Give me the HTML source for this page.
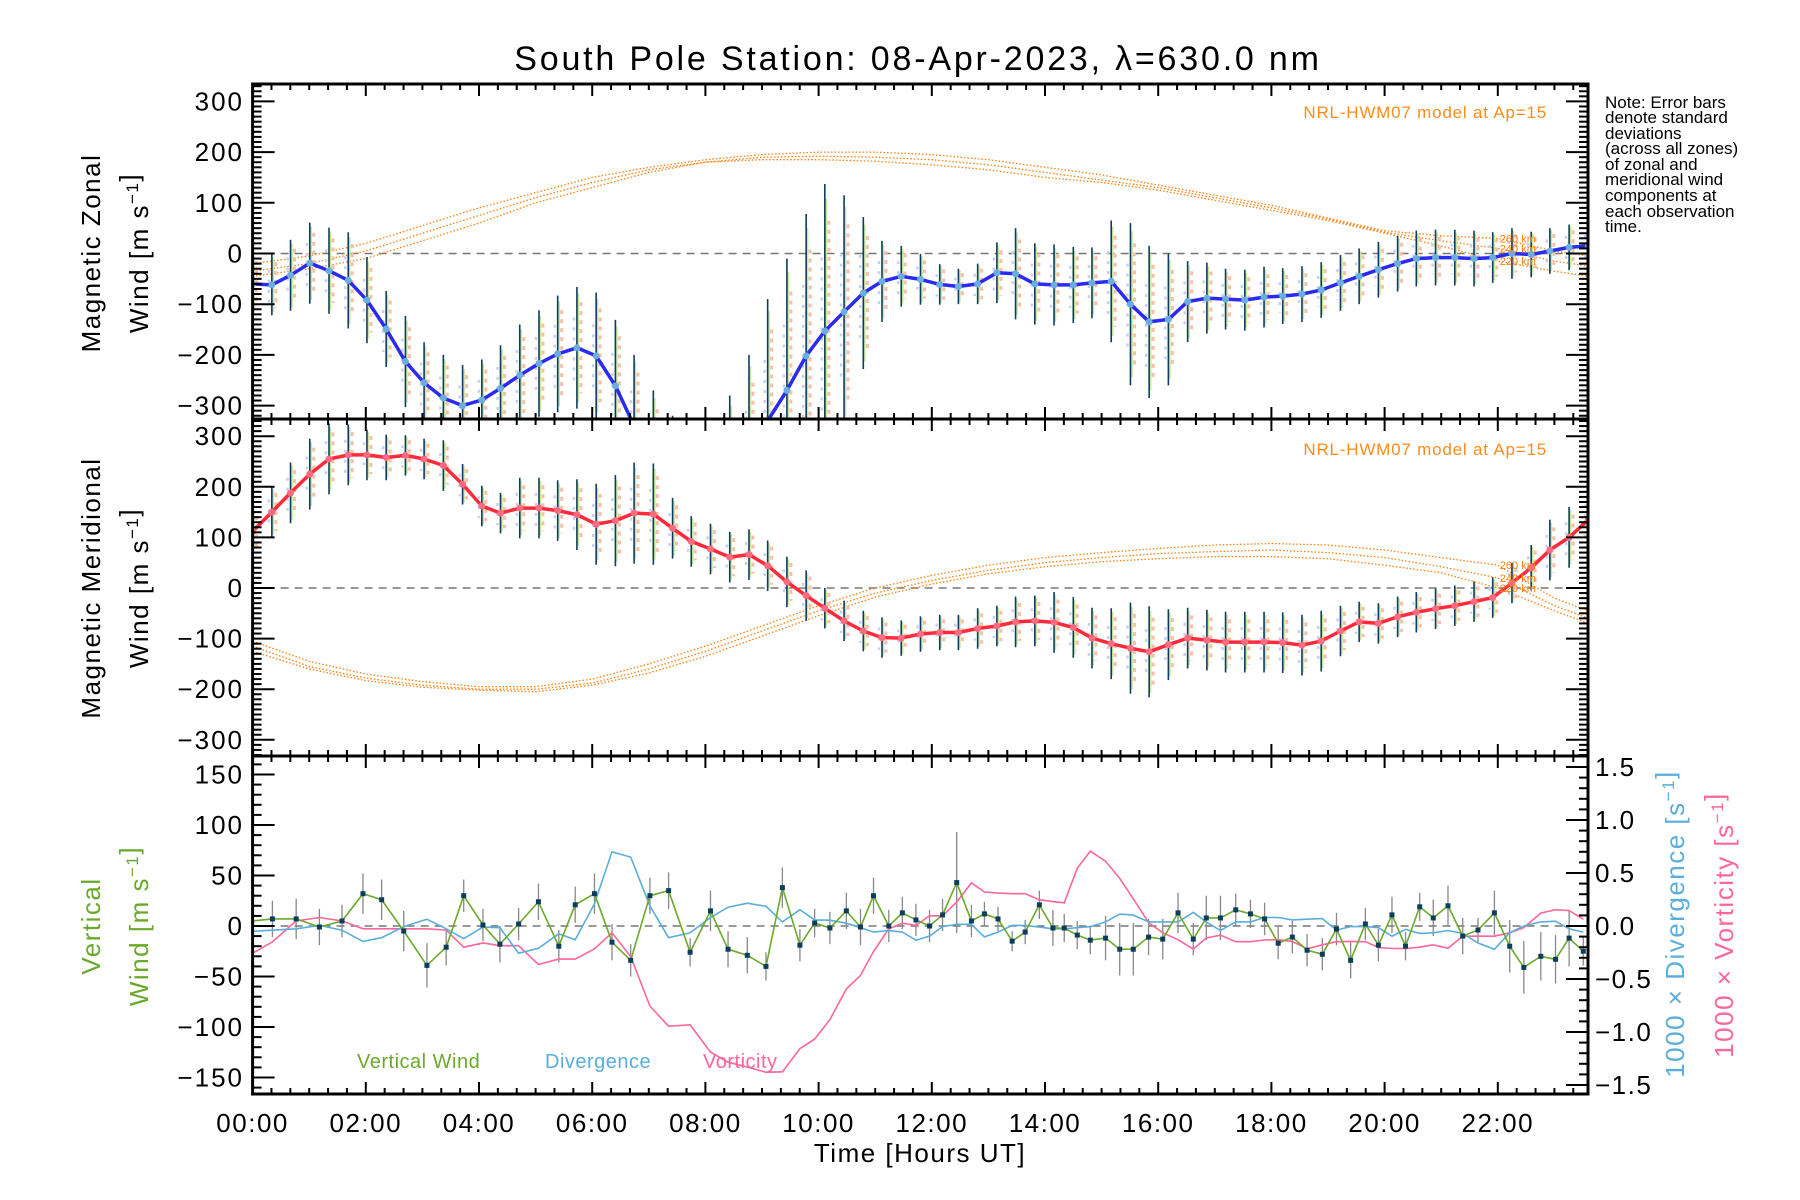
<!DOCTYPE html>
<html>
<head>
<meta charset="utf-8">
<style>
html,body{margin:0;padding:0;background:#fff;}
svg{display:block;font-family:"Liberation Sans",sans-serif;}
</style>
</head>
<body>
<svg id="chart" width="1800" height="1200" viewBox="0 0 1800 1200" xmlns="http://www.w3.org/2000/svg">
<rect x="0" y="0" width="1800" height="1200" fill="#fff"/>
<text x="918" y="70" font-size="34" text-anchor="middle" fill="#000" letter-spacing="2.8">South Pole Station: 08-Apr-2023, λ=630.0 nm</text>
<g font-size="17" fill="#000">
<text x="1605" y="108">Note: Error bars</text>
<text x="1605" y="123">denote standard</text>
<text x="1605" y="139">deviations</text>
<text x="1605" y="154">(across all zones)</text>
<text x="1605" y="170">of zonal and</text>
<text x="1605" y="185">meridional wind</text>
<text x="1605" y="201">components at</text>
<text x="1605" y="217">each observation</text>
<text x="1605" y="232">time.</text>
</g>
<text x="1547" y="118" font-size="17" letter-spacing="0.8" fill="#ff8c1a" text-anchor="end">NRL-HWM07 model at Ap=15</text>
<text x="1547" y="455" font-size="17" letter-spacing="0.8" fill="#ff8c1a" text-anchor="end">NRL-HWM07 model at Ap=15</text>
<text x="920" y="1162" font-size="26" letter-spacing="1.5" text-anchor="middle">Time [Hours UT]</text>
<g id="g"></g>
</svg>
<script>
// ---------- data ----------
const hours = [0,0.34,0.67,1.01,1.35,1.69,2.02,2.36,2.70,3.03,3.37,3.71,4.05,4.38,4.72,5.06,5.39,5.73,6.07,6.41,6.74,7.08,7.42,7.75,8.09,8.43,8.77,9.10,9.44,9.78,10.11,10.45,10.79,11.12,11.46,11.80,12.14,12.47,12.81,13.15,13.48,13.82,14.16,14.50,14.83,15.17,15.51,15.84,16.18,16.52,16.86,17.19,17.53,17.87,18.20,18.54,18.88,19.22,19.55,19.89,20.23,20.56,20.90,21.24,21.58,21.91,22.25,22.59,22.92,23.26,23.60];
const zonalWind = [-60,-62,-43,-19,-34,-53,-92,-149,-213,-255,
 -285,-300,-289,-266,-240,-217,-198,-186,-202,-261,
 -340,-420,-480,-510,-510,-480,-420,-330,-270,-202,
 -153,-115,-78,-55,-45,-51,-61,-65,-60,-38,
 -40,-60,-62,-62,-58,-55,-100,-135,-130,-95,
 -88,-90,-92,-86,-84,-80,-72,-58,-45,-32,
 -20,-10,-8,-8,-10,-8,0,-2,5,12,15];
const zonalErr = [60,60,70,80,85,95,85,75,90,80,
 85,80,80,85,100,105,115,120,125,130,
 140,150,160,170,180,200,220,240,260,280,
 290,230,150,80,60,50,40,35,40,60,
 90,80,80,75,70,120,160,150,130,80,
 70,60,60,60,55,55,55,55,55,55,
 55,55,55,55,55,50,50,45,45,45,45];
const meridWind = [112,150,188,225,255,263,263,258,262,255,
 242,205,162,148,158,158,153,145,126,133,
 148,146,118,92,77,61,66,44,12,-15,
 -40,-65,-85,-98,-99,-91,-88,-88,-80,-75,
 -67,-65,-68,-78,-99,-110,-119,-126,-112,-99,
 -103,-107,-107,-107,-108,-113,-105,-85,-67,-70,
 -57,-48,-41,-35,-27,-19,10,40,75,100,135];
const meridErr = [40,50,60,70,70,60,50,45,40,40,
 50,40,40,40,60,60,60,70,80,90,
 100,100,60,50,50,50,50,50,50,50,
 40,40,40,40,35,35,35,35,40,40,
 50,50,60,60,60,70,90,90,70,60,
 60,60,60,60,60,60,60,50,40,40,
 40,40,40,40,40,40,40,45,60,60,60];

const modelHours = [0,1,2,3,4,5,6,7,8,9,10,11,12,13,14,15,16,17,18,19,20,21,22,23,23.6];
const hwmZonal260 = [-20,-5,20,55,90,120,150,170,185,195,200,200,195,185,170,155,135,115,95,70,45,35,30,5,-5];
const hwmZonal240 = [-35,-20,5,40,75,110,140,165,180,190,192,190,185,175,160,145,130,110,90,68,42,25,10,-15,-25];
const hwmZonal220 = [-45,-30,-10,25,60,100,130,160,180,185,185,182,175,165,150,140,125,105,85,65,40,15,-15,-35,-45];
const hwmMerid260 = [-105,-145,-170,-185,-195,-195,-180,-150,-115,-75,-35,0,25,45,60,70,78,85,88,85,75,60,45,-20,-45];
const hwmMerid240 = [-115,-155,-178,-192,-200,-200,-188,-160,-125,-85,-45,-10,15,35,50,60,68,72,75,70,60,42,20,-35,-60];
const hwmMerid220 = [-125,-160,-183,-196,-202,-205,-192,-168,-135,-95,-55,-18,8,28,42,52,58,62,62,58,45,30,0,-45,-70];

const vertHours = [0,0.35,0.77,1.18,1.58,1.95,2.28,2.67,3.08,3.42,3.73,
 4.07,4.37,4.70,5.05,5.41,5.70,6.04,6.35,6.68,7.02,
 7.35,7.73,8.09,8.40,8.74,9.07,9.36,9.67,9.93,10.20,
 10.49,10.74,10.97,11.24,11.48,11.72,11.96,12.19,12.44,12.70,
 12.93,13.17,13.42,13.65,13.90,14.14,14.34,14.57,14.80,15.07,
 15.32,15.56,15.83,16.08,16.35,16.62,16.85,17.10,17.37,17.63,
 17.88,18.12,18.37,18.63,18.90,19.15,19.40,19.66,19.89,20.13,
 20.37,20.62,20.86,21.12,21.38,21.65,21.94,22.21,22.46,22.76,
 23.02,23.26,23.51];
const vertWind = [5,7,7,-1,5,32,26,-5,-39,-21,30,
 1,-18,2,24,-20,21,32,-16,-34,30,
 35,-26,15,-23,-29,-40,38,-19,3,-2,
 15,-1,30,0,13,6,0,11,43,5,
 12,7,-15,-6,21,-2,-2,-9,-14,-12,
 -23,-23,-11,-13,13,-13,8,8,16,12,
 7,-17,-11,-24,-28,-3,-34,2,-19,11,
 -20,19,8,20,-10,-4,13,-20,-41,-30,
 -33,-12,-25];
const vertErr = [0,18,20,18,16,20,20,20,22,18,16,
 16,18,16,18,16,18,20,18,16,18,
 18,14,20,18,18,14,20,16,14,16,
 18,18,18,16,16,16,16,16,50,16,
 12,12,10,12,14,18,14,14,14,22,
 26,26,18,20,20,16,22,22,16,14,
 16,16,16,16,16,16,18,16,16,18,
 14,14,18,20,18,12,22,26,26,24,
 24,28,14];
const divergence = [-0.05,-0.04,-0.026,0.006,-0.04,-0.145,-0.11,-0.006,0.064,-0.026,-0.12,
 -0.01,-0.016,-0.257,-0.21,-0.074,-0.13,0.21,0.70,0.65,0.19,
 -0.11,-0.064,0.08,0.177,0.215,0.186,0.039,0.154,0.058,0.055,
 0.026,-0.016,-0.058,-0.042,-0.058,-0.135,-0.096,-0.006,0.016,0.016,
 -0.103,-0.058,0.006,0.006,-0.01,-0.026,-0.026,-0.016,-0.006,0.039,
 0.112,0.103,0.039,0.039,0.039,0.128,0.039,-0.042,0.039,0.039,
 0.08,0.08,0.058,0.064,0.07,-0.039,-0.006,-0.006,-0.016,-0.096,
 -0.032,-0.07,-0.064,-0.042,-0.07,-0.16,-0.22,-0.064,0.0,0.039,
 0.045,-0.026,-0.058];
const vorticity = [-0.257,-0.15,0.048,0.08,0.048,-0.026,-0.026,-0.026,-0.026,-0.039,-0.2,
 -0.16,-0.186,-0.186,-0.363,-0.312,-0.312,-0.215,-0.064,-0.289,-0.755,
 -0.945,-0.932,-1.19,-1.285,-1.33,-1.38,-1.375,-1.157,-1.067,-0.883,
 -0.594,-0.466,-0.241,-0.026,0.026,0.006,0.096,0.096,0.225,0.408,
 0.321,0.31,0.305,0.305,0.247,0.23,0.218,0.546,0.707,0.61,
 0.45,0.257,0.032,-0.064,-0.129,-0.218,-0.112,-0.087,-0.148,-0.148,
 -0.132,-0.129,-0.145,-0.215,-0.177,-0.148,-0.145,-0.148,-0.203,-0.212,
 -0.212,-0.2,-0.177,-0.209,-0.096,-0.096,-0.096,-0.064,-0.016,0.122,
 0.154,0.145,0.064];

const xTickLabels = ["00:00","02:00","04:00","06:00","08:00","10:00","12:00","14:00","16:00","18:00","20:00","22:00"];
const xTickHours = [0,2,4,6,8,10,12,14,16,18,20,22];
const windTicks = [300,200,100,0,-100,-200,-300];
const vertTicks = [150,100,50,0,-50,-100,-150];
const rightTicks = [1.5,1.0,0.5,0.0,-0.5,-1.0,-1.5];

// ---------- geometry ----------
const L = 252.6, R = 1588, HPX = 56.6;
const P1 = {top:84, bot:419, zero:253.5, k:0.507};
const P2 = {top:419, bot:756, zero:588, k:0.506};
const P3 = {top:756, bot:1094, zero:926, k:1.01, kr:106};
const xs = h => L + HPX*h;
const y1 = v => P1.zero - P1.k*v;
const y2 = v => P2.zero - P2.k*v;
const y3 = v => P3.zero - P3.k*v;
const y3r = d => P3.zero - P3.kr*d;

const NS = "http://www.w3.org/2000/svg";
const root = document.getElementById("g");
function mk(parent, tag, attrs, text){
  const e = document.createElementNS(NS, tag);
  for (const k in attrs) e.setAttribute(k, attrs[k]);
  if (text !== undefined) e.textContent = text;
  parent.appendChild(e);
  return e;
}
const fmtMinus = s => String(s).replace("-", "\u2212");

const defs = mk(root, "defs", {});
[[P1,"c1"],[P2,"c2"],[P3,"c3"]].forEach(([p,id])=>{
  const cp = mk(defs, "clipPath", {id:id});
  mk(cp, "rect", {x:L, y:p.top, width:R-L, height:p.bot-p.top});
});

[[y1(0),"zonal-zero-line"],[y2(0),"meridional-zero-line"],[y3(0),"vertical-zero-line"]].forEach(([y,n])=>{
  const ln = mk(root, "line", {x1:L, x2:R, y1:y, y2:y, stroke:"#777", "stroke-width":1.5, "stroke-dasharray":"8,6"});
  
  
});

function modelCurve(parent, vals, yf, name){
  const pts = modelHours.map((h,i)=>xs(h).toFixed(1)+","+yf(vals[i]).toFixed(1)).join(" ");
  const pl = mk(parent, "polyline", {points:pts, fill:"none", stroke:"#ff7f0e", "stroke-width":1.3, "stroke-dasharray":"1.5,2"});
  
  
}
const g1 = mk(root, "g", {"clip-path":"url(#c1)"});


const g2 = mk(root, "g", {"clip-path":"url(#c2)"});


const g3 = mk(root, "g", {"clip-path":"url(#c3)"});



modelCurve(g1, hwmZonal260, y1, "hwm-zonal-260km");
modelCurve(g1, hwmZonal240, y1, "hwm-zonal-240km");
modelCurve(g1, hwmZonal220, y1, "hwm-zonal-220km");
modelCurve(g2, hwmMerid260, y2, "hwm-meridional-260km");
modelCurve(g2, hwmMerid240, y2, "hwm-meridional-240km");
modelCurve(g2, hwmMerid220, y2, "hwm-meridional-220km");

[["260 km",hwmZonal260],["240 km",hwmZonal240],["220 km",hwmZonal220]].forEach(([t,arr])=>{
  const tx = mk(root, "text", {x:xs(22)+2, y:y1(arr[22])+4, "font-size":11, fill:"#ff7f0e"}, t);
  
  
});
[["260 km",hwmMerid260],["240 km",hwmMerid240],["220 km",hwmMerid220]].forEach(([t,arr])=>{
  const tx = mk(root, "text", {x:xs(22)+2, y:y2(arr[22])+4, "font-size":11, fill:"#ff7f0e"}, t);
  
  
});

function windBars(parent, vals, errs, yf, name){
  hours.forEach((h,i)=>{
    const x = xs(h), v = vals[i], e = errs[i];
    const sc = mk(parent, "line", {x1:x+4, x2:x+4, y1:yf(v+e*0.75), y2:yf(v-e*0.75), stroke:"#f9c0a8", "stroke-width":3, "stroke-dasharray":"4,5"});
    
    
    const sc2 = mk(parent, "line", {x1:x-3, x2:x-3, y1:yf(v+e*0.5), y2:yf(v-e*0.6), stroke:"#c8d0f0", "stroke-width":2.5, "stroke-dasharray":"3,7"});
    
    
    const sc3 = mk(parent, "line", {x1:x+1.5, x2:x+1.5, y1:yf(v+e*0.9), y2:yf(v-e*0.9), stroke:"#c8e6a0", "stroke-width":1.5});
    
    
    const eb = mk(parent, "line", {x1:x, x2:x, y1:yf(v+e), y2:yf(v-e), stroke:"#0b3d5c", "stroke-width":1.6});
    
    
  });
}
windBars(g1, zonalWind, zonalErr, y1, "zonal");
windBars(g2, meridWind, meridErr, y2, "meridional");

function windLine(parent, vals, yf, color, dot, name){
  const pts = hours.map((h,i)=>xs(h).toFixed(1)+","+yf(vals[i]).toFixed(1)).join(" ");
  const pl = mk(parent, "polyline", {points:pts, fill:"none", stroke:color, "stroke-width":3.5, "stroke-linejoin":"round"});
  
  
  hours.forEach((h,i)=>{
    const c = mk(parent, "circle", {cx:xs(h), cy:yf(vals[i]), r:3.5, fill:dot});
    
    
  });
}
windLine(g1, zonalWind, y1, "#2a2af0", "#6aaee0", "zonal-wind");
windLine(g2, meridWind, y2, "#ff2b3a", "#ff6b80", "meridional-wind");

vertHours.forEach((h,i)=>{
  if (!vertErr[i]) return;
  const eb = mk(g3, "line", {x1:xs(h), x2:xs(h), y1:y3(vertWind[i]+vertErr[i]), y2:y3(vertWind[i]-vertErr[i]), stroke:"#888", "stroke-width":1.3});
  
  
});
function polyOf(arr, yf){ return vertHours.map((h,i)=>xs(h).toFixed(1)+","+yf(arr[i]).toFixed(1)).join(" "); }
const vortLine = mk(g3, "polyline", {points:polyOf(vorticity, y3r), fill:"none", stroke:"#ff6699", "stroke-width":1.6});


const divLine = mk(g3, "polyline", {points:polyOf(divergence, y3r), fill:"none", stroke:"#5aaedc", "stroke-width":1.6});


const vwLine = mk(g3, "polyline", {points:polyOf(vertWind, y3), fill:"none", stroke:"#6aaa2a", "stroke-width":1.6});


vertHours.forEach((h,i)=>{
  if (i===0) return;
  const p = mk(g3, "rect", {x:xs(h)-2.5, y:y3(vertWind[i])-2.5, width:5, height:5, fill:"#0b3d5c"});
  
  
});

[["Vertical Wind",357,"#6aaa2a","legend-vertical-wind"],["Divergence",545,"#5aaedc","legend-divergence"],["Vorticity",703,"#ff6699","legend-vorticity"]].forEach(([t,x,c,n])=>{
  const tx = mk(root, "text", {x:x, y:1068, "font-size":20, "letter-spacing":0.5, fill:c}, t);
  
  
});

[P1,P2,P3].forEach((p,i)=>{
  const r = mk(root, "rect", {x:L, y:p.top, width:R-L, height:p.bot-p.top, fill:"none", stroke:"#000", "stroke-width":3});
  
  
});

const tickG = mk(root, "g", {stroke:"#000", "stroke-width":2});


[P1,P2,P3].forEach(p=>{
  for (let m=0; m*20/60 <= 23.6; m++){
    const h = m/3, x = xs(h);
    const major = (m % 6 === 0);
    const len = major ? 12 : 6;
    mk(tickG, "line", {x1:x, x2:x, y1:p.bot, y2:p.bot-len});
    mk(tickG, "line", {x1:x, x2:x, y1:p.top, y2:p.top+len});
  }
});
[[P1,y1],[P2,y2]].forEach(([p,yf])=>{
  for (let v=-330; v<=330; v+=10){
    const y = yf(v);
    if (y < p.top+1 || y > p.bot-1) continue;
    const major = (v % 100 === 0);
    const len = major ? 22 : 9;
    mk(tickG, "line", {x1:L, x2:L+len, y1:y, y2:y});
    mk(tickG, "line", {x1:R, x2:R-len, y1:y, y2:y});
  }
});
for (let v=-160; v<=160; v+=10){
  const y = y3(v);
  if (y < P3.top+1 || y > P3.bot-1) continue;
  const len = (v % 50 === 0) ? 22 : 9;
  mk(tickG, "line", {x1:L, x2:L+len, y1:y, y2:y});
}
for (let d=-15; d<=15; d++){
  const y = y3r(d/10);
  const len = (d % 5 === 0) ? 22 : 9;
  mk(tickG, "line", {x1:R, x2:R-len, y1:y, y2:y});
}

xTickHours.forEach((h,i)=>{
  const t = mk(root, "text", {x:xs(h), y:1132, "font-size":26, "letter-spacing":1.5, "text-anchor":"middle"}, xTickLabels[i]);
  
  
});
windTicks.forEach(v=>{
  const t1 = mk(root, "text", {x:244, y:y1(v)+9, "font-size":26, "letter-spacing":2, "text-anchor":"end"}, fmtMinus(v));
  
  
  const t2 = mk(root, "text", {x:244, y:y2(v)+9, "font-size":26, "letter-spacing":2, "text-anchor":"end"}, fmtMinus(v));
  
  
});
vertTicks.forEach(v=>{
  const t = mk(root, "text", {x:244, y:y3(v)+9, "font-size":26, "letter-spacing":2, "text-anchor":"end"}, fmtMinus(v));
  
  
});
rightTicks.forEach(v=>{
  const t = mk(root, "text", {x:1595, y:y3r(v)+9, "font-size":26, "letter-spacing":1.5}, fmtMinus(v.toFixed(1)));
  
  
});

function rotTitle(x, y, parts, color, name){
  const t = mk(root, "text", {x:x, y:y, "font-size":26, "letter-spacing":1.5, "text-anchor":"middle", fill:color, transform:"rotate(-90 "+x+" "+y+")"});
  
  
  parts.forEach(p=>{
    if (p.sup){
      mk(t, "tspan", {dy:-10, "font-size":17}, p.s);
      mk(t, "tspan", {dy:10}, "");
    } else mk(t, "tspan", {}, p.s);
  });
}
const windUnit = [{s:"Wind [m s"},{s:"\u22121",sup:true},{s:"]"}];
rotTitle(100, 253, [{s:"Magnetic Zonal"}], "#000", "zonal-y-title");
rotTitle(148, 253, windUnit, "#000", "zonal-y-unit");
rotTitle(100, 588, [{s:"Magnetic Meridional"}], "#000", "meridional-y-title");
rotTitle(148, 588, windUnit, "#000", "meridional-y-unit");
rotTitle(100, 926, [{s:"Vertical"}], "#6aaa2a", "vertical-y-title");
rotTitle(148, 926, windUnit, "#6aaa2a", "vertical-y-unit");
rotTitle(1684, 924, [{s:"1000 \u00d7 Divergence [s"},{s:"\u22121",sup:true},{s:"]"}], "#5aaedc", "divergence-axis-title");
rotTitle(1733, 925, [{s:"1000 \u00d7 Vorticity [s"},{s:"\u22121",sup:true},{s:"]"}], "#ff6699", "vorticity-axis-title");
</script>
</body>
</html>
